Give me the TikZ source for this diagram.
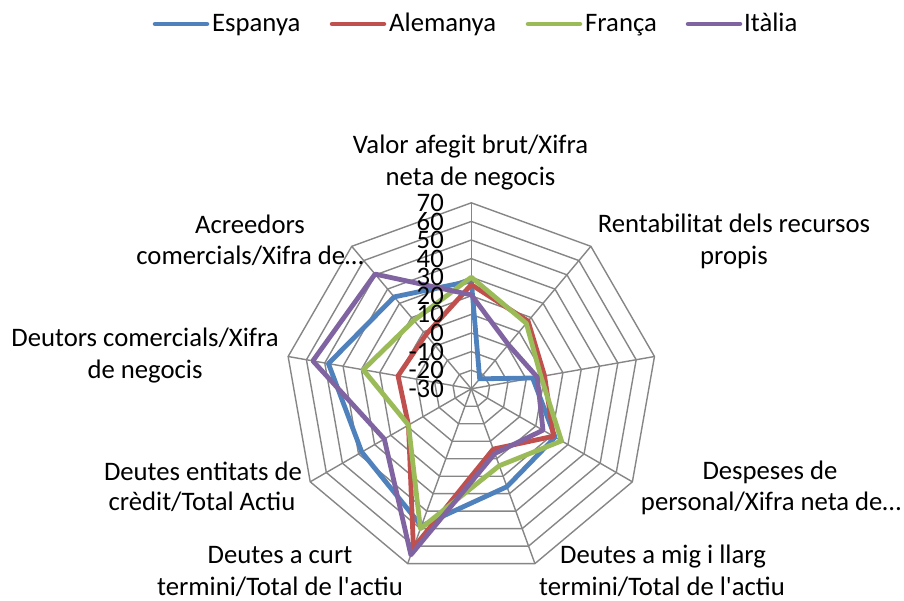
\documentclass[tikz,border=0pt]{standalone}
\usepackage{fontspec}
\setmainfont{Carlito}[Ligatures=TeXOff]
\definecolor{cEsp}{RGB}{79,129,189}
\definecolor{cAle}{RGB}{192,80,77}
\definecolor{cFra}{RGB}{155,187,89}
\definecolor{cIta}{RGB}{128,100,162}
\definecolor{gridc}{RGB}{134,134,134}
\tikzset{
  gridline/.style={draw=gridc, line width=1.4pt},
  serie/.style={line width=4.8pt, line join=round, line cap=round},
  lbl/.style={anchor=base, inner sep=0pt, font=\fontsize{26.7pt}{31.6pt}\selectfont, text=black},
  ticklbl/.style={anchor=east, inner sep=0pt, font=\fontsize{26.7pt}{31.6pt}\selectfont, text=black},
  legline/.style={line width=4.5pt, line cap=round},
  legtxt/.style={anchor=base west, inner sep=0pt, font=\fontsize{26.7pt}{31.6pt}\selectfont, text=black}
}
\begin{document}
\begin{tikzpicture}[x=1pt,y=-1pt]
\useasboundingbox (0,0) rectangle (904,600);
\fill[white] (0,0) rectangle (904,600);
\coordinate (C) at (471.3,388.8);
% grid
\begin{scope}[shift={(C)}]
  \foreach \k in {1,...,10}{
    \pgfmathsetmacro\rr{\k*18.6}
    \draw[gridline] (90:\rr pt) \foreach \i in {1,...,8}{ -- ({90-40*\i}:\rr pt) } -- cycle;
  }
  \foreach \i in {0,...,8}{
    \draw[gridline] (0,0) -- ({90-40*\i}:186pt);
  }
  % series
  \draw[serie, cEsp] (90:{(28+30)*1.86pt}) \foreach \v [count=\i] in {-23,3.5,22,26,48.5,38,48,34.5}{ -- ({90-40*\i}:{(\v+30)*1.86pt}) } -- cycle;
  \draw[serie, cAle] (90:{(26+30)*1.86pt}) \foreach \v [count=\i] in {17.5,10,21,4.5,61,9,10,8}{ -- ({90-40*\i}:{(\v+30)*1.86pt}) } -- cycle;
  \draw[serie, cFra] (90:{(30+30)*1.86pt}) \foreach \v [count=\i] in {16,8,26,14,50,9,29,18}{ -- ({90-40*\i}:{(\v+30)*1.86pt}) } -- cycle;
  \draw[serie, cIta] (90:{(20.5+30)*1.86pt}) \foreach \v [count=\i] in {1,6,14.5,7,65,24,56.5,50.5}{ -- ({90-40*\i}:{(\v+30)*1.86pt}) } -- cycle;
\end{scope}
% tick labels
\foreach \k/\t in {0/-30,1/-20,2/-10,3/0,4/10,5/20,6/30,7/40,8/50,9/60,10/70}{
  \node[ticklbl] (tick\k) at (444,{388.8-18.6*\k}) {\t};
}
% category labels
\node[lbl] (v1) at (470.5,153.3) {Valor afegit brut/Xifra};
\node[lbl] (v2) at (470.5,185) {neta de negocis};
\node[lbl] (r1) at (734,232.7) {Rentabilitat dels recursos};
\node[lbl] (r2) at (734,264) {propis};
\node[lbl] (d1) at (770,479.5) {Despeses de};
\node[lbl] (d2) at (771,510.7) {personal/Xifra neta de…};
\node[lbl] (m1) at (663,563.3) {Deutes a mig i llarg};
\node[lbl] (m2) at (662,595) {termini/Total de l'actiu};
\node[lbl] (c1) at (280,563.3) {Deutes a curt};
\node[lbl] (c2) at (280,595) {termini/Total de l'actiu};
\node[lbl] (e1) at (203,480) {Deutes entitats de};
\node[lbl] (e2) at (202,510.7) {crèdit/Total Actiu};
\node[lbl] (t1) at (145,346.7) {Deutors comercials/Xifra};
\node[lbl] (t2) at (145,378.5) {de negocis};
\node[lbl] (a1) at (250,233.3) {Acreedors};
\node[lbl] (a2) at (250,264.5) {comercials/Xifra de…};
% legend
\coordinate (lE1) at (155,24); \coordinate (lE2) at (207,24);
\coordinate (lA1) at (332,24); \coordinate (lA2) at (384,24);
\coordinate (lF1) at (528,24); \coordinate (lF2) at (580,24);
\coordinate (lI1) at (688,24); \coordinate (lI2) at (740,24);
\draw[legline, cEsp] (lE1) -- (lE2);
\draw[legline, cAle] (lA1) -- (lA2);
\draw[legline, cFra] (lF1) -- (lF2);
\draw[legline, cIta] (lI1) -- (lI2);
\node[legtxt] (gE) at (212,31) {Espanya};
\node[legtxt] (gA) at (389,31) {Alemanya};
\node[legtxt] (gF) at (585,31) {França};
\node[legtxt] (gI) at (744,31) {Itàlia};
\end{tikzpicture}
\end{document}
